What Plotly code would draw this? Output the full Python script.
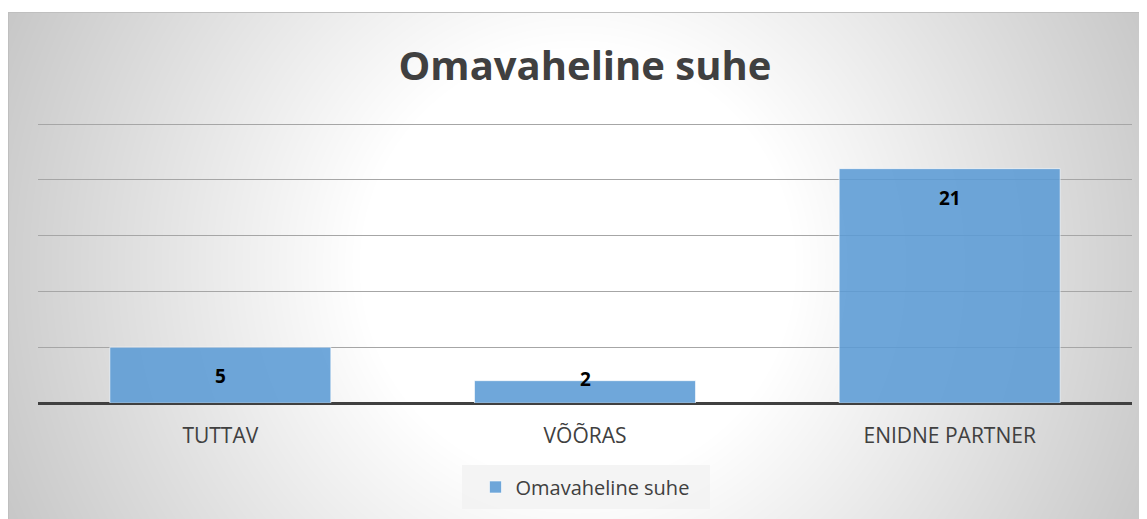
import base64
import struct
import zlib

import numpy as np
import plotly.graph_objects as go

# ---- data ----
categories = ["TUTTAV", "VÕÕRAS", "ENIDNE PARTNER"]
values = [5, 2, 21]
series_name = "Omavaheline suhe"
chart_title = "Omavaheline suhe"

# ---- layout geometry (figure pixels; the page adds an 8px body margin) ----
W, H = 1139, 511
ML, MR, MT, MB = 30, 15, 113, 116
PW, PH = W - ML - MR, H - MT - MB
Y_MAX = 25.27  # 25 sits 3px below the top edge so its gridline is drawn
CA_X0, CA_Y0 = 0, 4  # chart-area top-left corner


def px_to_paper_x(px):
    return (px - ML) / PW


def px_to_paper_y(py):
    return (H - MB - py) / PH


# ---- radial gradient background (white centre, grey corners) ----
gw, gh = W - CA_X0, H - CA_Y0
yy, xx = np.mgrid[0:gh, 0:gw].astype(float)
cx, cy = gw / 2.0, gh / 2.0
r = np.hypot(xx - cx, yy - cy) / np.hypot(cx, cy)
v = 255 - 85 * np.clip(r - 0.35, 0, 0.65)
img = np.clip(v, 0, 255).astype(np.uint8)


def to_png(a):
    h, w = a.shape
    raw = b"".join(b"\x00" + a[i].tobytes() for i in range(h))

    def chunk(tag, data):
        c = struct.pack(">I", len(data)) + tag + data
        return c + struct.pack(">I", zlib.crc32(tag + data) & 0xFFFFFFFF)

    return (b"\x89PNG\r\n\x1a\n"
            + chunk(b"IHDR", struct.pack(">IIBBBBB", w, h, 8, 0, 0, 0, 0))
            + chunk(b"IDAT", zlib.compress(raw, 9))
            + chunk(b"IEND", b""))


bg_uri = "data:image/png;base64," + base64.b64encode(to_png(img)).decode()

FONT = "Open Sans"
BAR_COLOR = "rgba(91,155,213,0.88)"

fig = go.Figure()
fig.add_trace(go.Bar(
    x=categories, y=values, name=series_name,
    width=0.606,
    marker=dict(color=BAR_COLOR, line=dict(color="rgba(255,255,255,0.6)", width=1)),
    hoverinfo="x+y",
))

# data labels (inside end; small bars get the label near the top edge)
px_per_unit = PH / Y_MAX
for c, val in zip(categories, values):
    shift = -29 if val * px_per_unit > 40 else 2
    fig.add_annotation(x=c, y=val, yshift=shift, text=f"<b>{val}</b>", showarrow=False,
                       font=dict(family=FONT, size=19, color="#000000"),
                       xanchor="center", yanchor="middle")

# legend box
lx0, lx1, ly0, ly1 = 454, 702, 457, 501
fig.add_shape(type="rect", xref="paper", yref="paper",
              x0=px_to_paper_x(lx0), x1=px_to_paper_x(lx1),
              y0=px_to_paper_y(ly1), y1=px_to_paper_y(ly0),
              fillcolor="rgba(242,242,242,0.85)", line=dict(width=0), layer="below")

# chart-area border (top and left)
fig.add_shape(type="line", xref="paper", yref="paper",
              x0=px_to_paper_x(CA_X0), x1=px_to_paper_x(W),
              y0=px_to_paper_y(CA_Y0 + 0.5), y1=px_to_paper_y(CA_Y0 + 0.5),
              line=dict(color="#BFBFBF", width=1))
fig.add_shape(type="line", xref="paper", yref="paper",
              x0=px_to_paper_x(CA_X0 + 0.5), x1=px_to_paper_x(CA_X0 + 0.5),
              y0=px_to_paper_y(CA_Y0), y1=px_to_paper_y(H),
              line=dict(color="#BFBFBF", width=1))

fig.add_layout_image(dict(
    source=bg_uri, xref="paper", yref="paper",
    x=px_to_paper_x(CA_X0), y=px_to_paper_y(CA_Y0),
    sizex=gw / PW, sizey=gh / PH, sizing="stretch",
    xanchor="left", yanchor="top", layer="below",
))

fig.update_layout(
    width=W, height=H,
    margin=dict(l=ML, r=MR, t=MT, b=MB, pad=0),
    paper_bgcolor="#FFFFFF",
    plot_bgcolor="rgba(0,0,0,0)",
    title=dict(text=f"<b>{chart_title}</b>", x=0.5, xref="paper", xanchor="center",
               y=1 - 58 / H, yanchor="middle",
               font=dict(family=FONT, size=40, color="#404040")),
    showlegend=True,
    legend=dict(orientation="h", x=0.5, xanchor="center",
                y=px_to_paper_y(479), yanchor="middle",
                bgcolor="rgba(0,0,0,0)",
                font=dict(family=FONT, size=20, color="#404040")),
    xaxis=dict(showgrid=False, showline=False, ticks="outside", ticklen=14,
               tickcolor="rgba(0,0,0,0)",
               tickfont=dict(family=FONT, size=21, color="#404040")),
    yaxis=dict(range=[0, Y_MAX], tick0=0, dtick=5, showticklabels=False, showgrid=True,
               gridcolor="#A6A6A6", gridwidth=1,
               zeroline=True, zerolinecolor="#404040", zerolinewidth=3,
               fixedrange=True),
)

fig.write_html("out.html")
